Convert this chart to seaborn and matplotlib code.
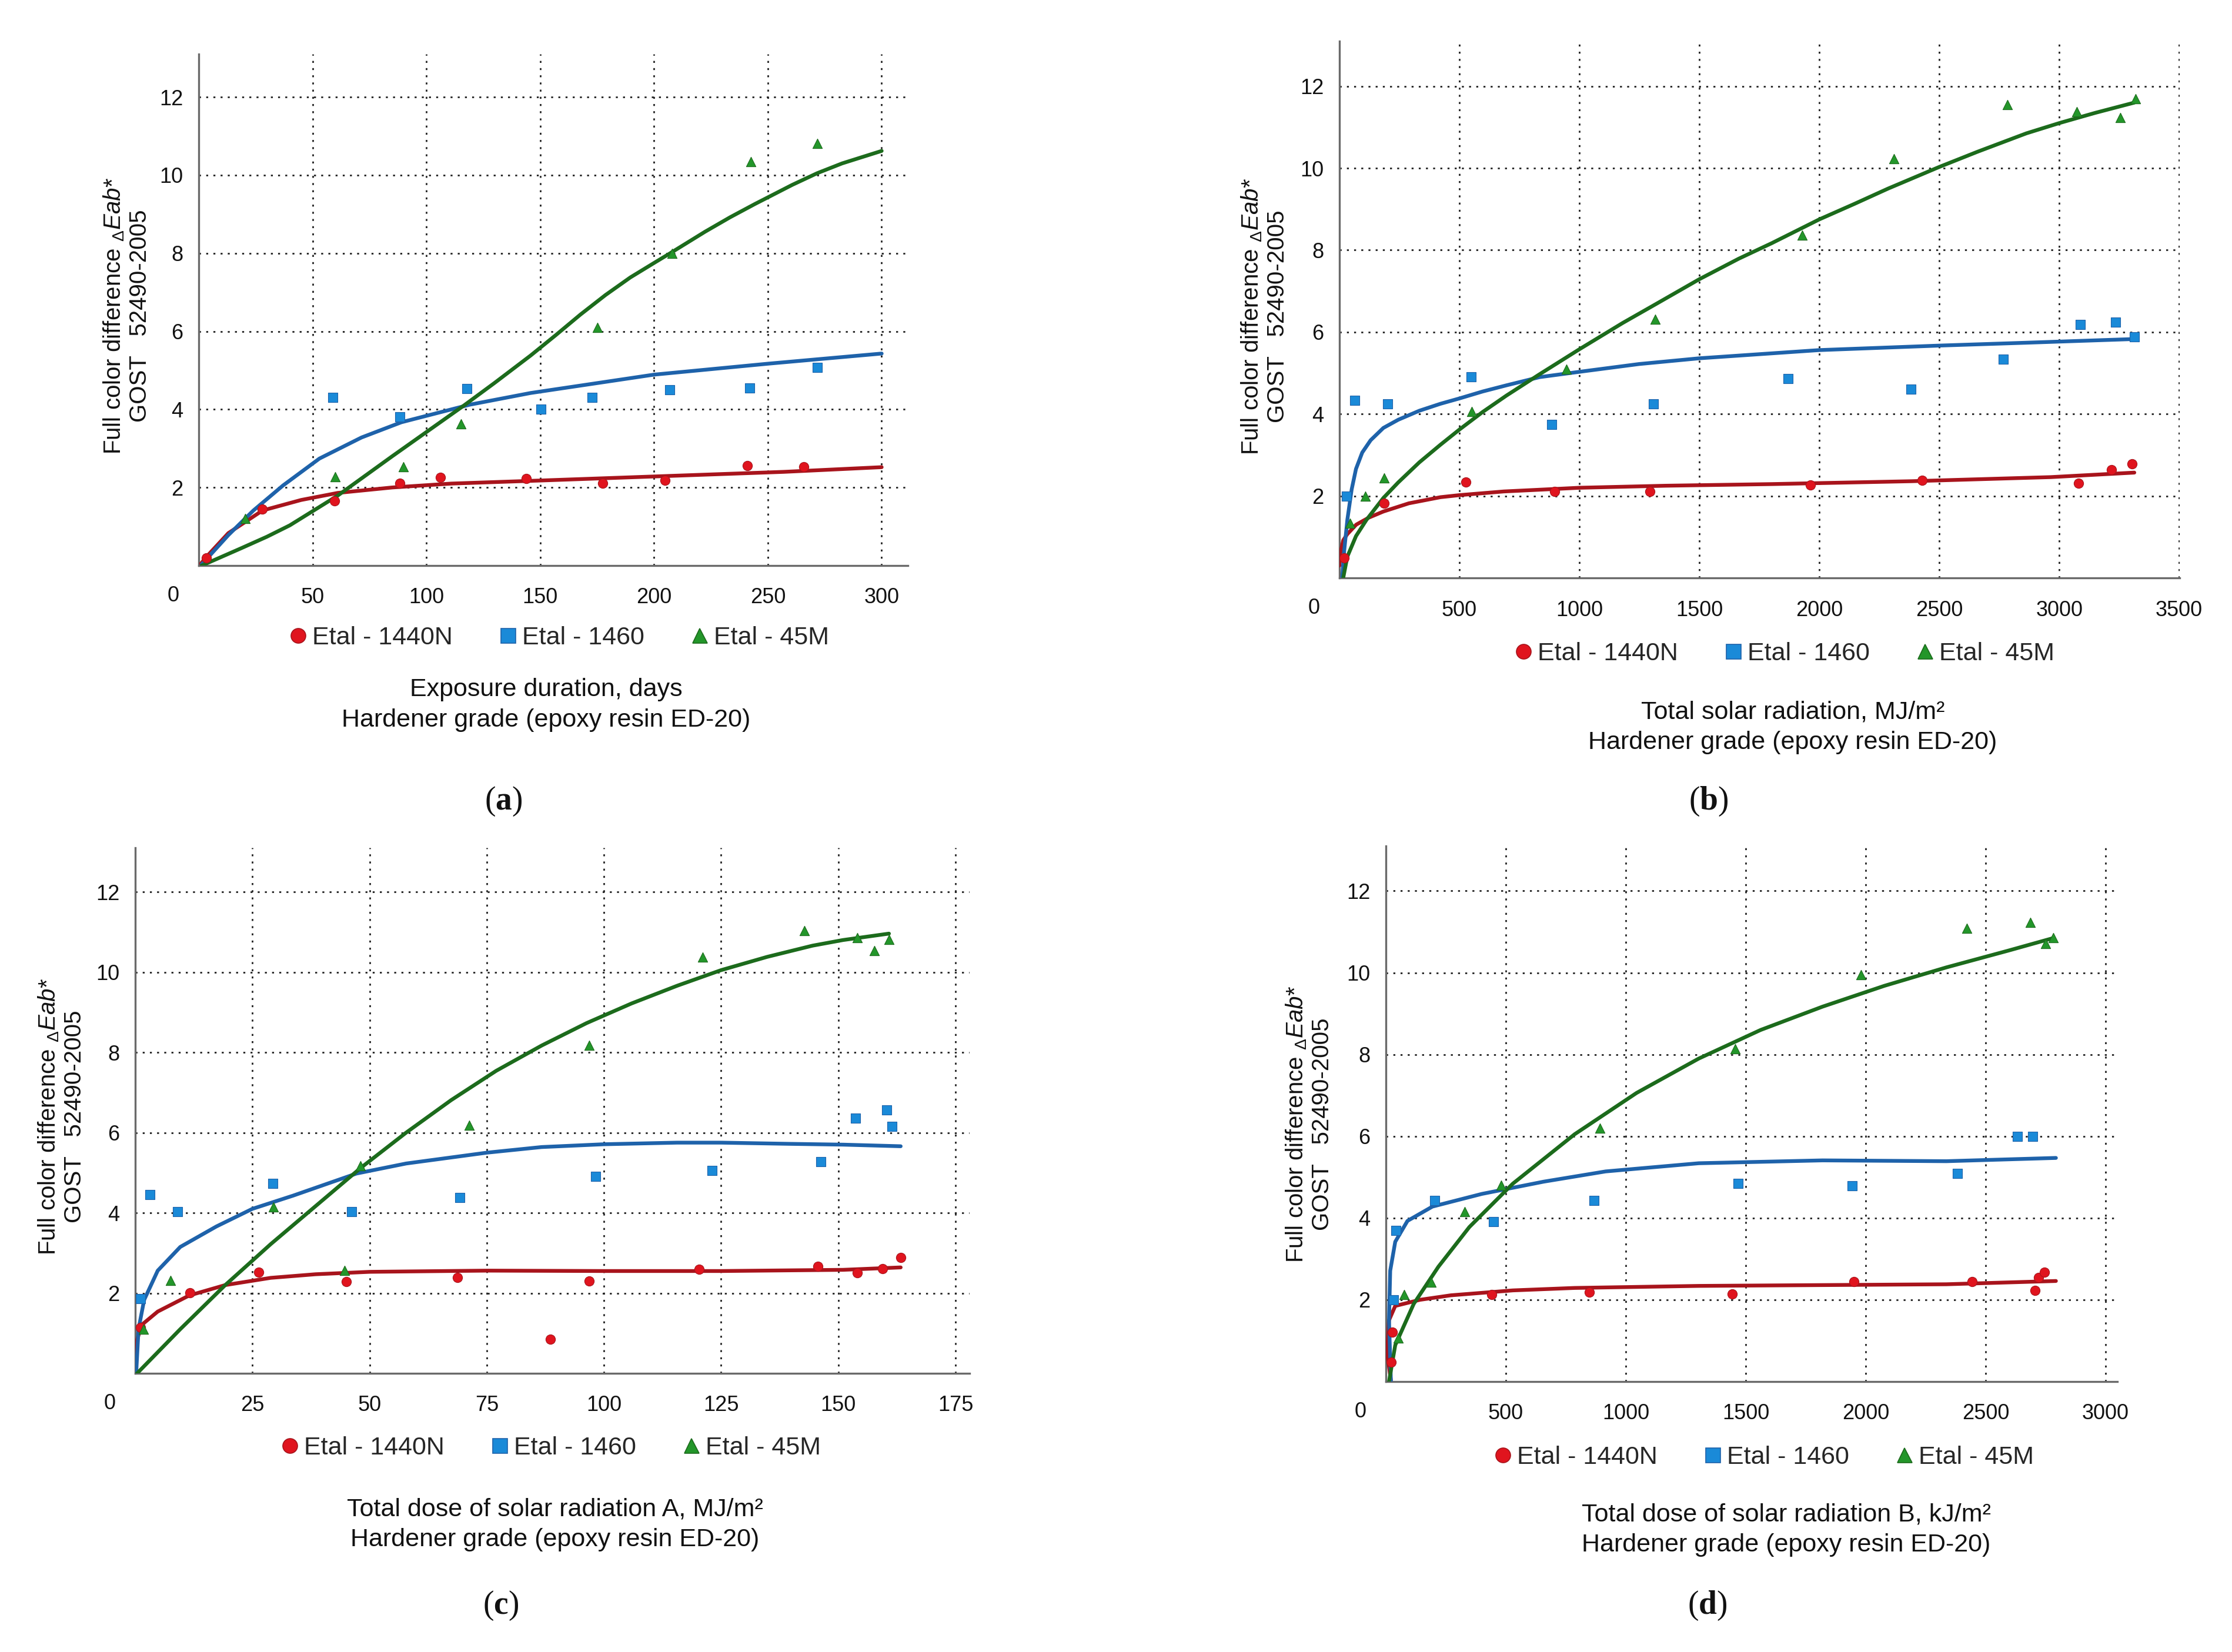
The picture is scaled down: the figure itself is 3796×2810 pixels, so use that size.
import numpy as np
import pandas as pd
import matplotlib
matplotlib.use("Agg")
import matplotlib.pyplot as plt
from matplotlib.lines import Line2D
import seaborn as sns

W, H = 3796, 2810
DPI = 200

series_names = ["Etal - 1440N", "Etal - 1460", "Etal - 45M"]
panel_letters = ["a", "b", "c", "d"]
x_titles = [
    "Exposure duration, days",
    "Total solar radiation, MJ/m\u00b2",
    "Total dose of solar radiation A, MJ/m\u00b2",
    "Total dose of solar radiation B, kJ/m\u00b2",
]
x_ticks = [
    [50, 100, 150, 200, 250, 300],
    [500, 1000, 1500, 2000, 2500, 3000, 3500],
    [25, 50, 75, 100, 125, 150, 175],
    [500, 1000, 1500, 2000, 2500, 3000],
]
x_max = [311.5, 3502, 178, 3049]
y_ticks = [2, 4, 6, 8, 10, 12]

# ---- (a) exposure duration ----
a_red_x = [3.4, 27.8, 59.6, 88.4, 106.2, 143.8, 177.4, 204.9, 240.9, 265.8]
a_red_y = [0.19, 1.44, 1.66, 2.11, 2.26, 2.23, 2.11, 2.19, 2.56, 2.53]
a_blue_x = [58.8, 88.4, 117.8, 150.4, 172.9, 206.8, 242.0, 271.6]
a_blue_y = [4.31, 3.81, 4.53, 4.00, 4.31, 4.50, 4.55, 5.07]
a_green_x = [20.4, 59.8, 89.8, 115.2, 175.0, 207.9, 242.5, 271.6]
a_green_y = [1.20, 2.27, 2.53, 3.63, 6.10, 7.99, 10.35, 10.81]
a_red_fit_x = [1, 3, 13, 28, 45, 61, 85, 111, 151, 204, 257, 300]
a_red_fit_y = [0.05, 0.2, 0.83, 1.41, 1.68, 1.86, 2.0, 2.1, 2.18, 2.29, 2.40, 2.52]
a_blue_fit_x = [1.3, 13, 24, 37, 53, 71.5, 89, 119, 145.8, 200, 250, 300]
a_blue_fit_y = [0.03, 0.78, 1.41, 2.05, 2.74, 3.28, 3.67, 4.12, 4.42, 4.89, 5.17, 5.43]
a_green_fit_x = [1.3, 18.5, 30, 40, 61, 85, 116.5, 130, 145.8, 156.8, 167.7, 178.7, 189.6,
                 200, 207.1, 222.4, 233.4, 244.3, 250, 260.7, 271.7, 282.6, 300]
a_green_fit_y = [0, 0.44, 0.74, 1.03, 1.79, 2.8, 4.1, 4.68, 5.38, 5.9, 6.43, 6.93, 7.38,
                 7.75, 8.0, 8.55, 8.92, 9.26, 9.43, 9.75, 10.05, 10.3, 10.62]

# ---- (b) total solar radiation ----
b_red_x = [20, 186, 528, 896, 1294, 1964, 2428, 3081, 3217, 3304]
b_red_y = [0.49, 1.82, 2.34, 2.11, 2.11, 2.27, 2.38, 2.31, 2.64, 2.79]
b_blue_x = [29, 64, 200, 548, 885, 1308, 1871, 2382, 2768, 3087, 3235, 3313]
b_blue_y = [2.0, 4.33, 4.25, 4.90, 3.74, 4.25, 4.87, 4.60, 5.34, 6.19, 6.24, 5.88]
b_green_x = [44, 107, 186, 551, 946, 1317, 1929, 2312, 2785, 3072, 3255, 3319]
b_green_y = [1.33, 2.0, 2.44, 4.06, 5.10, 6.32, 8.36, 10.23, 11.55, 11.38, 11.24, 11.70]
b_red_fit_x = [0, 2.6, 16, 33, 70, 122, 183, 289, 421, 500, 685, 861, 1000, 1361,
               1804, 2385, 2965, 3313]
b_red_fit_y = [0.3, 0.57, 0.92, 1.07, 1.3, 1.47, 1.62, 1.82, 1.97, 2.02, 2.11, 2.16,
               2.2, 2.25, 2.29, 2.36, 2.46, 2.57]
b_blue_fit_x = [11.4, 20, 33, 51, 69, 95, 130, 183, 245, 333, 421, 500, 597, 696, 834,
                1000, 1249, 1500, 2000, 2500, 2863, 3313]
b_blue_fit_y = [0, 0.67, 1.42, 2.16, 2.66, 3.06, 3.36, 3.66, 3.86, 4.08, 4.25, 4.38,
                4.55, 4.70, 4.90, 5.03, 5.22, 5.36, 5.56, 5.67, 5.74, 5.83]
b_green_fit_x = [15.8, 33, 69, 113, 183, 245, 333, 421, 500, 597, 696, 834, 1000, 1180,
                 1318, 1500, 1664, 1802, 2000, 2147, 2286, 2500, 2659, 2863, 3000, 3150, 3313]
b_green_fit_y = [0, 0.52, 1.02, 1.42, 1.95, 2.33, 2.82, 3.25, 3.62, 4.05, 4.45, 4.97,
                 5.58, 6.22, 6.68, 7.29, 7.79, 8.17, 8.75, 9.13, 9.5, 10.03, 10.4,
                 10.85, 11.1, 11.35, 11.6]

# ---- (c) solar radiation A ----
c_red_x = [1.1, 11.7, 26.4, 45.0, 68.8, 88.6, 96.8, 120.3, 145.6, 154.0, 159.4, 163.3]
c_red_y = [1.14, 2.01, 2.52, 2.29, 2.39, 0.85, 2.30, 2.59, 2.67, 2.51, 2.61, 2.88]
c_blue_x = [1.1, 3.1, 9.0, 29.3, 46.1, 69.3, 98.2, 123.1, 146.3, 153.7, 160.3, 161.5]
c_blue_y = [1.86, 4.46, 4.03, 4.73, 4.03, 4.38, 4.91, 5.06, 5.27, 6.36, 6.56, 6.16]
c_green_x = [1.8, 7.5, 29.5, 44.6, 48.0, 71.2, 96.8, 121.1, 142.8, 154.1, 157.7, 160.8]
c_green_y = [1.10, 2.32, 4.14, 2.56, 5.17, 6.18, 8.17, 10.37, 11.03, 10.86, 10.54, 10.81]
c_red_fit_x = [0, 0.3, 1.4, 4.8, 11.5, 19.2, 28.9, 38.5, 50, 75, 100, 125, 151, 163.3]
c_red_fit_y = [0.4, 0.8, 1.21, 1.54, 1.94, 2.20, 2.38, 2.47, 2.53, 2.56, 2.55, 2.55, 2.58, 2.64]
c_blue_fit_x = [0.2, 0.7, 1.9, 4.8, 9.6, 17.3, 25, 33.7, 47.2, 57.8, 75, 86.7, 100,
                115.6, 125, 139.6, 151, 163.3]
c_blue_fit_y = [0, 1.1, 1.83, 2.56, 3.15, 3.66, 4.10, 4.43, 4.98, 5.23, 5.50, 5.64,
                5.71, 5.75, 5.75, 5.72, 5.70, 5.66]
c_green_fit_x = [0.4, 9.6, 19.2, 28.9, 38.5, 48.1, 57.8, 67.4, 77, 86.7, 96.3, 105.9,
                 115.6, 125, 134.8, 144.5, 151, 160.8]
c_green_fit_y = [0, 1.10, 2.20, 3.22, 4.17, 5.12, 6.0, 6.81, 7.54, 8.17, 8.73, 9.22,
                 9.66, 10.05, 10.38, 10.66, 10.8, 10.96]

# ---- (d) solar radiation B ----
d_red_x = [21, 28, 441, 849, 1443, 1951, 2444, 2705, 2721, 2744]
d_red_y = [0.47, 1.21, 2.13, 2.19, 2.14, 2.44, 2.45, 2.23, 2.54, 2.67]
d_blue_x = [31, 41, 204, 449, 867, 1469, 1944, 2383, 2633, 2695]
d_blue_y = [2.0, 3.69, 4.43, 3.91, 4.43, 4.84, 4.79, 5.09, 6.0, 6.0]
d_green_x = [52, 75, 188, 328, 480, 893, 1456, 1980, 2421, 2687, 2749, 2783]
d_green_y = [1.06, 2.13, 2.43, 4.16, 4.81, 6.20, 8.14, 9.95, 11.09, 11.23, 10.71, 10.86]
d_red_fit_x = [21, 5, 13, 39, 142, 271, 529, 787, 1304, 1820, 2336, 2793]
d_red_fit_y = [0.03, 0.69, 1.5, 1.85, 2.0, 2.11, 2.23, 2.29, 2.34, 2.36, 2.38, 2.46]
d_blue_fit_x = [21, 13, 18, 39, 90, 194, 400, 658, 916, 1304, 1820, 2336, 2793]
d_blue_fit_y = [0, 1.5, 2.71, 3.42, 3.93, 4.28, 4.59, 4.89, 5.14, 5.34, 5.41, 5.39, 5.47]
d_green_fit_x = [13, 39, 116, 219, 348, 529, 787, 1045, 1304, 1562, 1820, 2078, 2336, 2594, 2783]
d_green_fit_y = [0, 0.89, 1.9, 2.81, 3.78, 4.84, 6.05, 7.06, 7.9, 8.6, 9.17, 9.68, 10.13, 10.54, 10.85]

points = [
    [(a_red_x, a_red_y), (a_blue_x, a_blue_y), (a_green_x, a_green_y)],
    [(b_red_x, b_red_y), (b_blue_x, b_blue_y), (b_green_x, b_green_y)],
    [(c_red_x, c_red_y), (c_blue_x, c_blue_y), (c_green_x, c_green_y)],
    [(d_red_x, d_red_y), (d_blue_x, d_blue_y), (d_green_x, d_green_y)],
]
fits = [
    [(a_red_fit_x, a_red_fit_y), (a_blue_fit_x, a_blue_fit_y), (a_green_fit_x, a_green_fit_y)],
    [(b_red_fit_x, b_red_fit_y), (b_blue_fit_x, b_blue_fit_y), (b_green_fit_x, b_green_fit_y)],
    [(c_red_fit_x, c_red_fit_y), (c_blue_fit_x, c_blue_fit_y), (c_green_fit_x, c_green_fit_y)],
    [(d_red_fit_x, d_red_fit_y), (d_blue_fit_x, d_blue_fit_y), (d_green_fit_x, d_green_fit_y)],
]

marker_colors = ["#e0141e", "#1a8ad8", "#23962a"]
line_colors = ["#a8141c", "#1e62aa", "#1c6b1c"]
markers = ["o", "s", "^"]

# layout in pixels of the reference (left, top, right, bottom)
boxes = [(338, 92, 1544, 962), (2278, 70, 3707, 983),
         (230, 1442, 1649, 2336), (2357, 1439, 3601, 2350)]
ylabel_pos = [(215, 537), (2150, 538), (104, 1899), (2226, 1912)]
legend_pos = [(952, 1085), (3036, 1112), (938, 2463), (3001, 2479)]
xlabel_pos = [(929, 1199), (3049, 1237), (944, 2593), (3038, 2602)]
letter_pos = [(856, 1363), (2906, 1363), (852, 2731), (2904, 2731)]

sns.set_theme(style="white")
plt.rcParams["font.family"] = ["Liberation Sans", "DejaVu Sans"]
plt.rcParams["mathtext.fontset"] = "custom"
plt.rcParams["mathtext.rm"] = "Liberation Sans"
plt.rcParams["mathtext.it"] = "Liberation Sans:italic"
plt.rcParams["mathtext.bf"] = "Liberation Serif:bold"


def fx(px):
    return px / W


def fy(py):
    return 1 - py / H


fig = plt.figure(figsize=(W / DPI, H / DPI), dpi=DPI)
ylab = "Full color difference $_{\\Delta}\\mathit{Eab}$*\nGOST   52490-2005"

for i in range(4):
    l, t, r, b = boxes[i]
    ax = fig.add_axes([fx(l), fy(b), (r - l) / W, (b - t) / H])

    for k in range(3):
        fxs, fys = fits[i][k]
        fit_df = pd.DataFrame({"x": fxs, "y": fys})
        sns.lineplot(data=fit_df, x="x", y="y", sort=False, estimator=None,
                     color=line_colors[k], linewidth=2.3, ax=ax, zorder=3)
    for k in range(3):
        pxs, pys = points[i][k]
        pt_df = pd.DataFrame({"x": pxs, "y": pys})
        sns.scatterplot(data=pt_df, x="x", y="y", marker=markers[k],
                        color=marker_colors[k], edgecolor=line_colors[k],
                        linewidth=0.4, s=34, ax=ax, zorder=4)

    ax.set_xlim(0, x_max[i])
    ax.set_ylim(0, 13.1)
    ax.set_xticks(x_ticks[i])
    ax.set_yticks(y_ticks)
    ax.set_xlabel("")
    ax.set_ylabel("")
    ax.tick_params(axis="both", length=0, labelsize=13, colors="#111111")
    ax.tick_params(axis="x", pad=13.5)
    ax.tick_params(axis="y", pad=9.5)
    ax.grid(True, color="#222222", linestyle=(0, (1.2, 3.2)), linewidth=1.0)
    for side in ["top", "right"]:
        ax.spines[side].set_visible(False)
    for side in ["left", "bottom"]:
        ax.spines[side].set_color("#6a6a6a")
        ax.spines[side].set_linewidth(1.2)
    ax.annotate("0", xy=(0, 0), xycoords="data", xytext=(-15.5, -18.5),
                textcoords="offset points", ha="center", va="center",
                fontsize=13, color="#111111")

    fig.text(fx(ylabel_pos[i][0]), fy(ylabel_pos[i][1]), ylab, rotation=90,
             ha="center", va="center", multialignment="center",
             fontsize=14.5, linespacing=1.15, color="#111111")

    handles = [Line2D([], [], linestyle="none", marker=markers[k], markersize=9,
                      markerfacecolor=marker_colors[k], markeredgecolor=line_colors[k],
                      markeredgewidth=0.6) for k in range(3)]
    fig.legend(handles, series_names, loc="center", ncol=3, frameon=False,
               bbox_to_anchor=(fx(legend_pos[i][0]), fy(legend_pos[i][1])),
               fontsize=15.5, handlelength=0.6, handletextpad=0.25,
               columnspacing=1.9, borderpad=0)

    fig.text(fx(xlabel_pos[i][0]), fy(xlabel_pos[i][1]),
             x_titles[i] + "\nHardener grade (epoxy resin ED-20)",
             ha="center", va="center", multialignment="center",
             fontsize=15.5, linespacing=1.38, color="#111111")

    fig.text(fx(letter_pos[i][0]), fy(letter_pos[i][1]),
             "($\\mathbf{" + panel_letters[i] + "}$)",
             family="Liberation Serif", ha="center", va="center", fontsize=20,
             color="#111111")

fig.savefig("out.png", dpi=DPI)
